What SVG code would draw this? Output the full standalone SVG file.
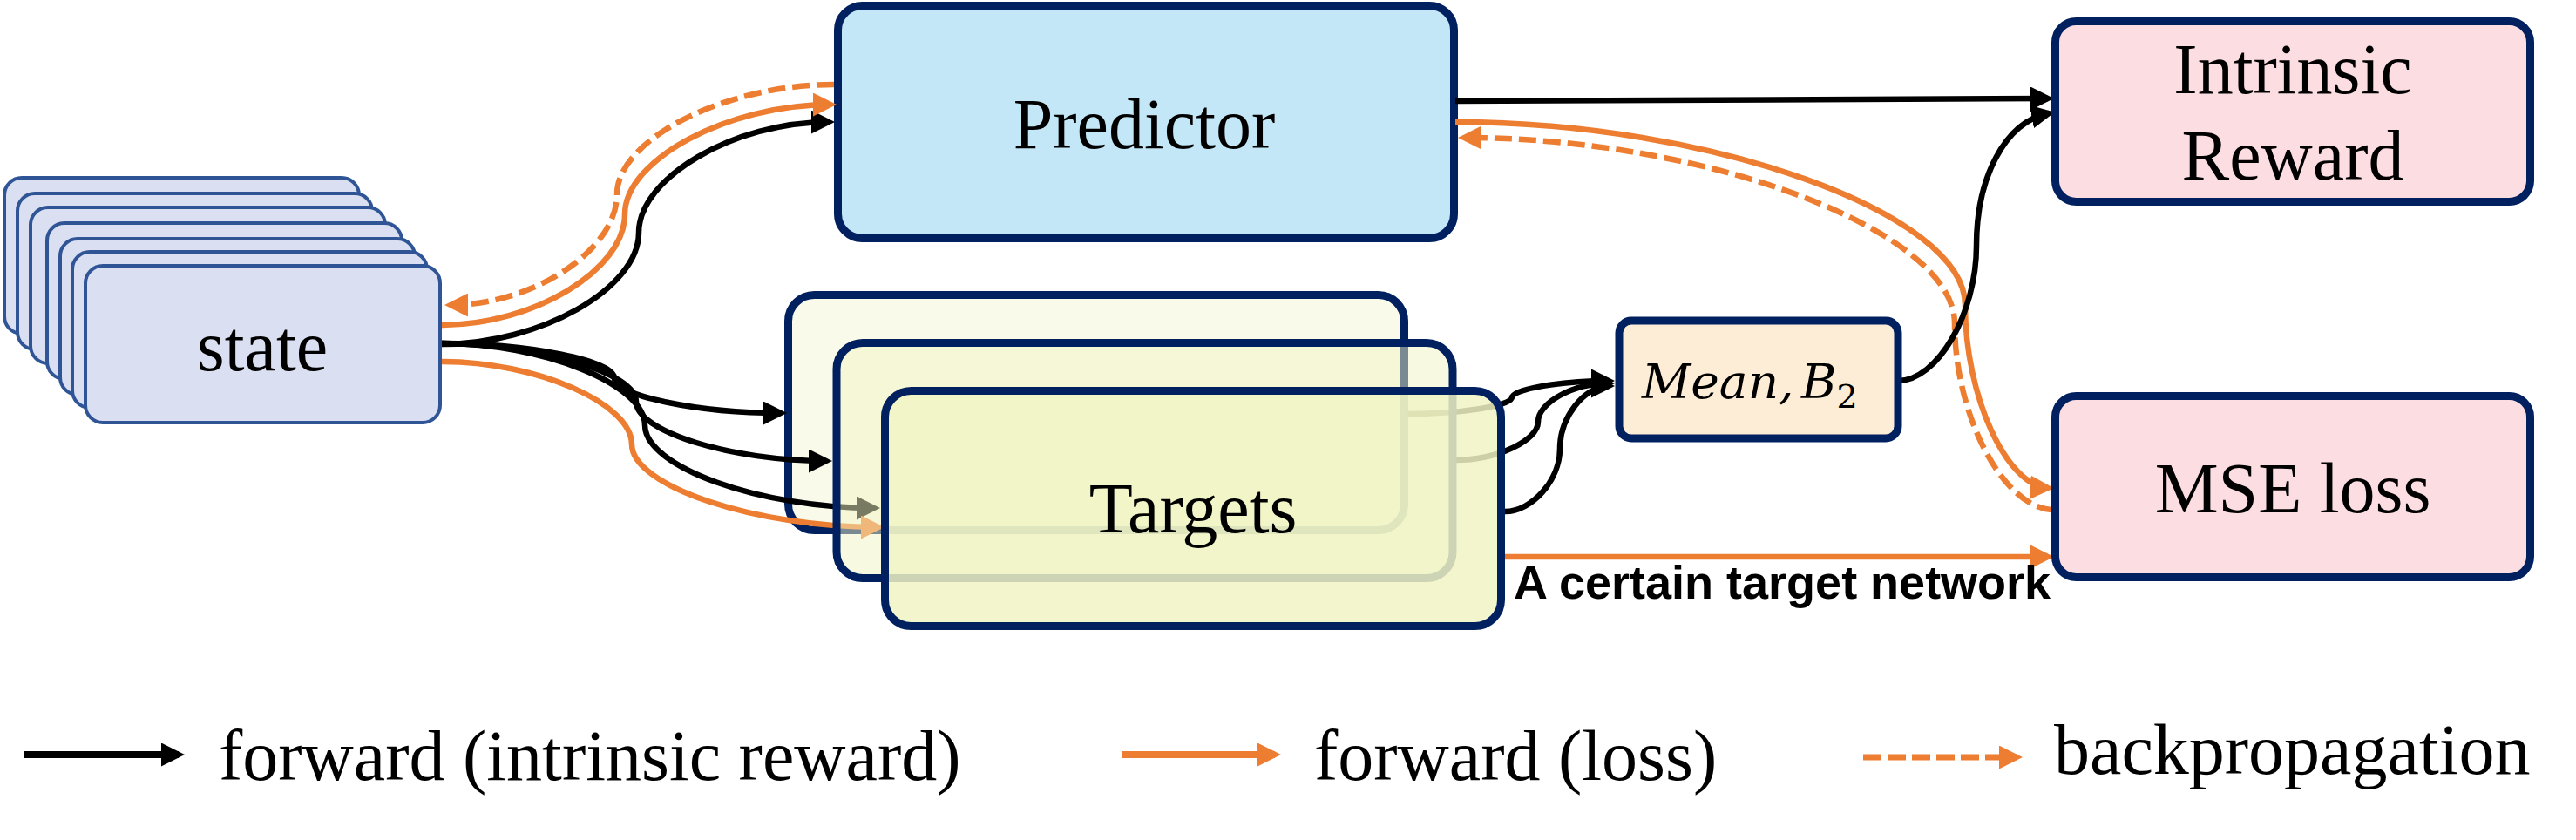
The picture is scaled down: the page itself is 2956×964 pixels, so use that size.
<svg xmlns="http://www.w3.org/2000/svg" width="2956" height="964" viewBox="0 0 2956 964">
<style>
.bg{fill:#FFFFFF}
.box{stroke:#002060;stroke-width:9}
.st rect{fill:#DAE0F1;stroke:#2F5597;stroke-width:4}
.lbl{font-family:'Liberation Serif','Times New Roman',serif;font-size:82px;fill:#000;text-anchor:middle}
.leg{font-family:'Liberation Serif','Times New Roman',serif;font-size:82px;fill:#000}
.math{font-family:'DejaVu Serif',serif;font-style:italic;font-size:55px;fill:#000;word-spacing:-9px}
.note{font-family:'Liberation Sans',Arial,sans-serif;font-weight:bold;font-size:54px;fill:#000}
.c{fill:none;stroke-width:6.5}
.k{stroke:#000000}
.o{stroke:#ED7D31}
.d{stroke:#ED7D31;stroke-dasharray:20 8}
</style>
<defs>
<marker id="ak" markerUnits="userSpaceOnUse" markerWidth="27" markerHeight="27" viewBox="0 0 27 27" refX="20" refY="13.5" orient="auto"><path d="M0,0 L27,13.5 L0,27 Z" fill="#000000"/></marker>
<marker id="ao" markerUnits="userSpaceOnUse" markerWidth="27" markerHeight="27" viewBox="0 0 27 27" refX="20" refY="13.5" orient="auto"><path d="M0,0 L27,13.5 L0,27 Z" fill="#ED7D31"/></marker>
</defs>
<rect class="bg" x="0" y="0" width="2956" height="964"/>

<g id="state" class="st">
<rect x="5" y="204" width="407" height="179" rx="20"/>
<rect x="20" y="222" width="407" height="179" rx="20"/>
<rect x="35" y="238" width="407" height="179" rx="20"/>
<rect x="54" y="256" width="407" height="179" rx="20"/>
<rect x="69" y="274" width="407" height="179" rx="20"/>
<rect x="83" y="289" width="407" height="179" rx="20"/>
<rect x="98" y="305" width="407" height="180" rx="20"/>
<text class="lbl" x="301" y="425">state</text>
</g>

<g id="predictor">
<rect class="box" x="961.5" y="6.5" width="707" height="267" rx="28" fill="#C3E7F6"/>
<text class="lbl" x="1313" y="170">Predictor</text>
</g>

<g id="target1">
<rect class="box" x="904.5" y="338.5" width="707" height="270" rx="30" fill="#F9FAE9"/>
</g>

<g id="connectors">
<path class="c k" d="M507,395 C620,395 733,331 733,267 C733,204 842,140 951,140" marker-end="url(#ak)"/>
<path class="c o" d="M507,373 C612,373 717,310 717,246 C717,183 835,120 953,120" marker-end="url(#ao)"/>
<path class="c d" d="M957,97 C832,97 708,160 708,223 C708,287 612,350 517,350" marker-end="url(#ao)"/>
<path class="c k" d="M507,394 C606,394 705,414 705,434 C705,454 800,474 896,474" marker-end="url(#ak)"/>
<path class="c k" d="M507,394 C618,394 730,428 730,461 C730,495 839,529 948,529" marker-end="url(#ak)"/>
<path class="c k" d="M507,394 C623,394 740,441 740,488 C740,536 872,583 1003,583" marker-end="url(#ak)"/>
<path class="c o" d="M507,415 C616,415 725,463 725,510 C725,558 867,605 1008,605" marker-end="url(#ao)"/>
<path class="c k" d="M1615,475 C1675,475 1735,466 1735,456 C1735,447 1790,437 1846,437" marker-end="url(#ak)"/>
<path class="c k" d="M1670,528 C1717,528 1765,506 1765,484 C1765,462 1805,440 1846,440" marker-end="url(#ak)"/>
<path class="c k" d="M1727,587 C1758,587 1790,551 1790,515 C1790,479 1818,443 1846,443" marker-end="url(#ak)"/>
<path class="c k" d="M1670,116 L2350,113" marker-end="url(#ak)"/>
<path class="c o" d="M1670,140 C1962,140 2255,245 2255,350 C2255,455 2303,558 2350,560" marker-end="url(#ao)"/>
<path class="c d" d="M2357,585 C2300,585 2243,478 2243,371 C2243,265 1958,158 1680,158" marker-end="url(#ao)"/>
<path class="c k" d="M2178,437 C2223,437 2268,360 2268,282 C2268,205 2300,140 2351,130" marker-end="url(#ak)"/>
<path class="c o" d="M1727,639 L2350,639" marker-end="url(#ao)"/>
<text class="note" x="1737" y="687">A certain target network</text>
</g>

<g id="target2">
<rect class="box" x="960" y="393.5" width="707" height="270" rx="30" fill="#F1F4C4" fill-opacity="0.5"/>
</g>

<g id="target3">
<rect class="box" x="1015.5" y="448.5" width="707" height="270" rx="30" fill="#F1F4C4" fill-opacity="0.85"/>
<text class="lbl" x="1369" y="611">Targets</text>
</g>

<g id="mean">
<rect class="box" x="1858" y="368" width="320" height="135" rx="14" fill="#FEEDD6"/>
<text class="math" x="1884" y="457">Mean, B<tspan font-style="normal" font-size="38" dy="11">2</tspan></text>
</g>

<g id="intrinsic-reward">
<rect class="box" x="2358.5" y="24.5" width="545" height="207" rx="24" fill="#FBDDE2"/>
<text class="lbl" x="2631" y="107">Intrinsic</text>
<text class="lbl" x="2631" y="206">Reward</text>
</g>

<g id="mse-loss">
<rect class="box" x="2358.5" y="454.5" width="545" height="208" rx="24" fill="#FBDDE2"/>
<text class="lbl" x="2631" y="588">MSE loss</text>
</g>

<g id="legend">
<path d="M28,866 L205,866" fill="none" stroke="#000000" stroke-width="8" marker-end="url(#ak)"/>
<text class="leg" x="251" y="895">forward (intrinsic reward)</text>
<path d="M1287,866 L1463,866" fill="none" stroke="#ED7D31" stroke-width="8" marker-end="url(#ao)"/>
<text class="leg" x="1508" y="895">forward (loss)</text>
<path d="M2138,869 L2314,869" fill="none" stroke="#ED7D31" stroke-width="7" stroke-dasharray="21 7" marker-end="url(#ao)"/>
<text class="leg" x="2357" y="888">backpropagation</text>
</g>
</svg>
